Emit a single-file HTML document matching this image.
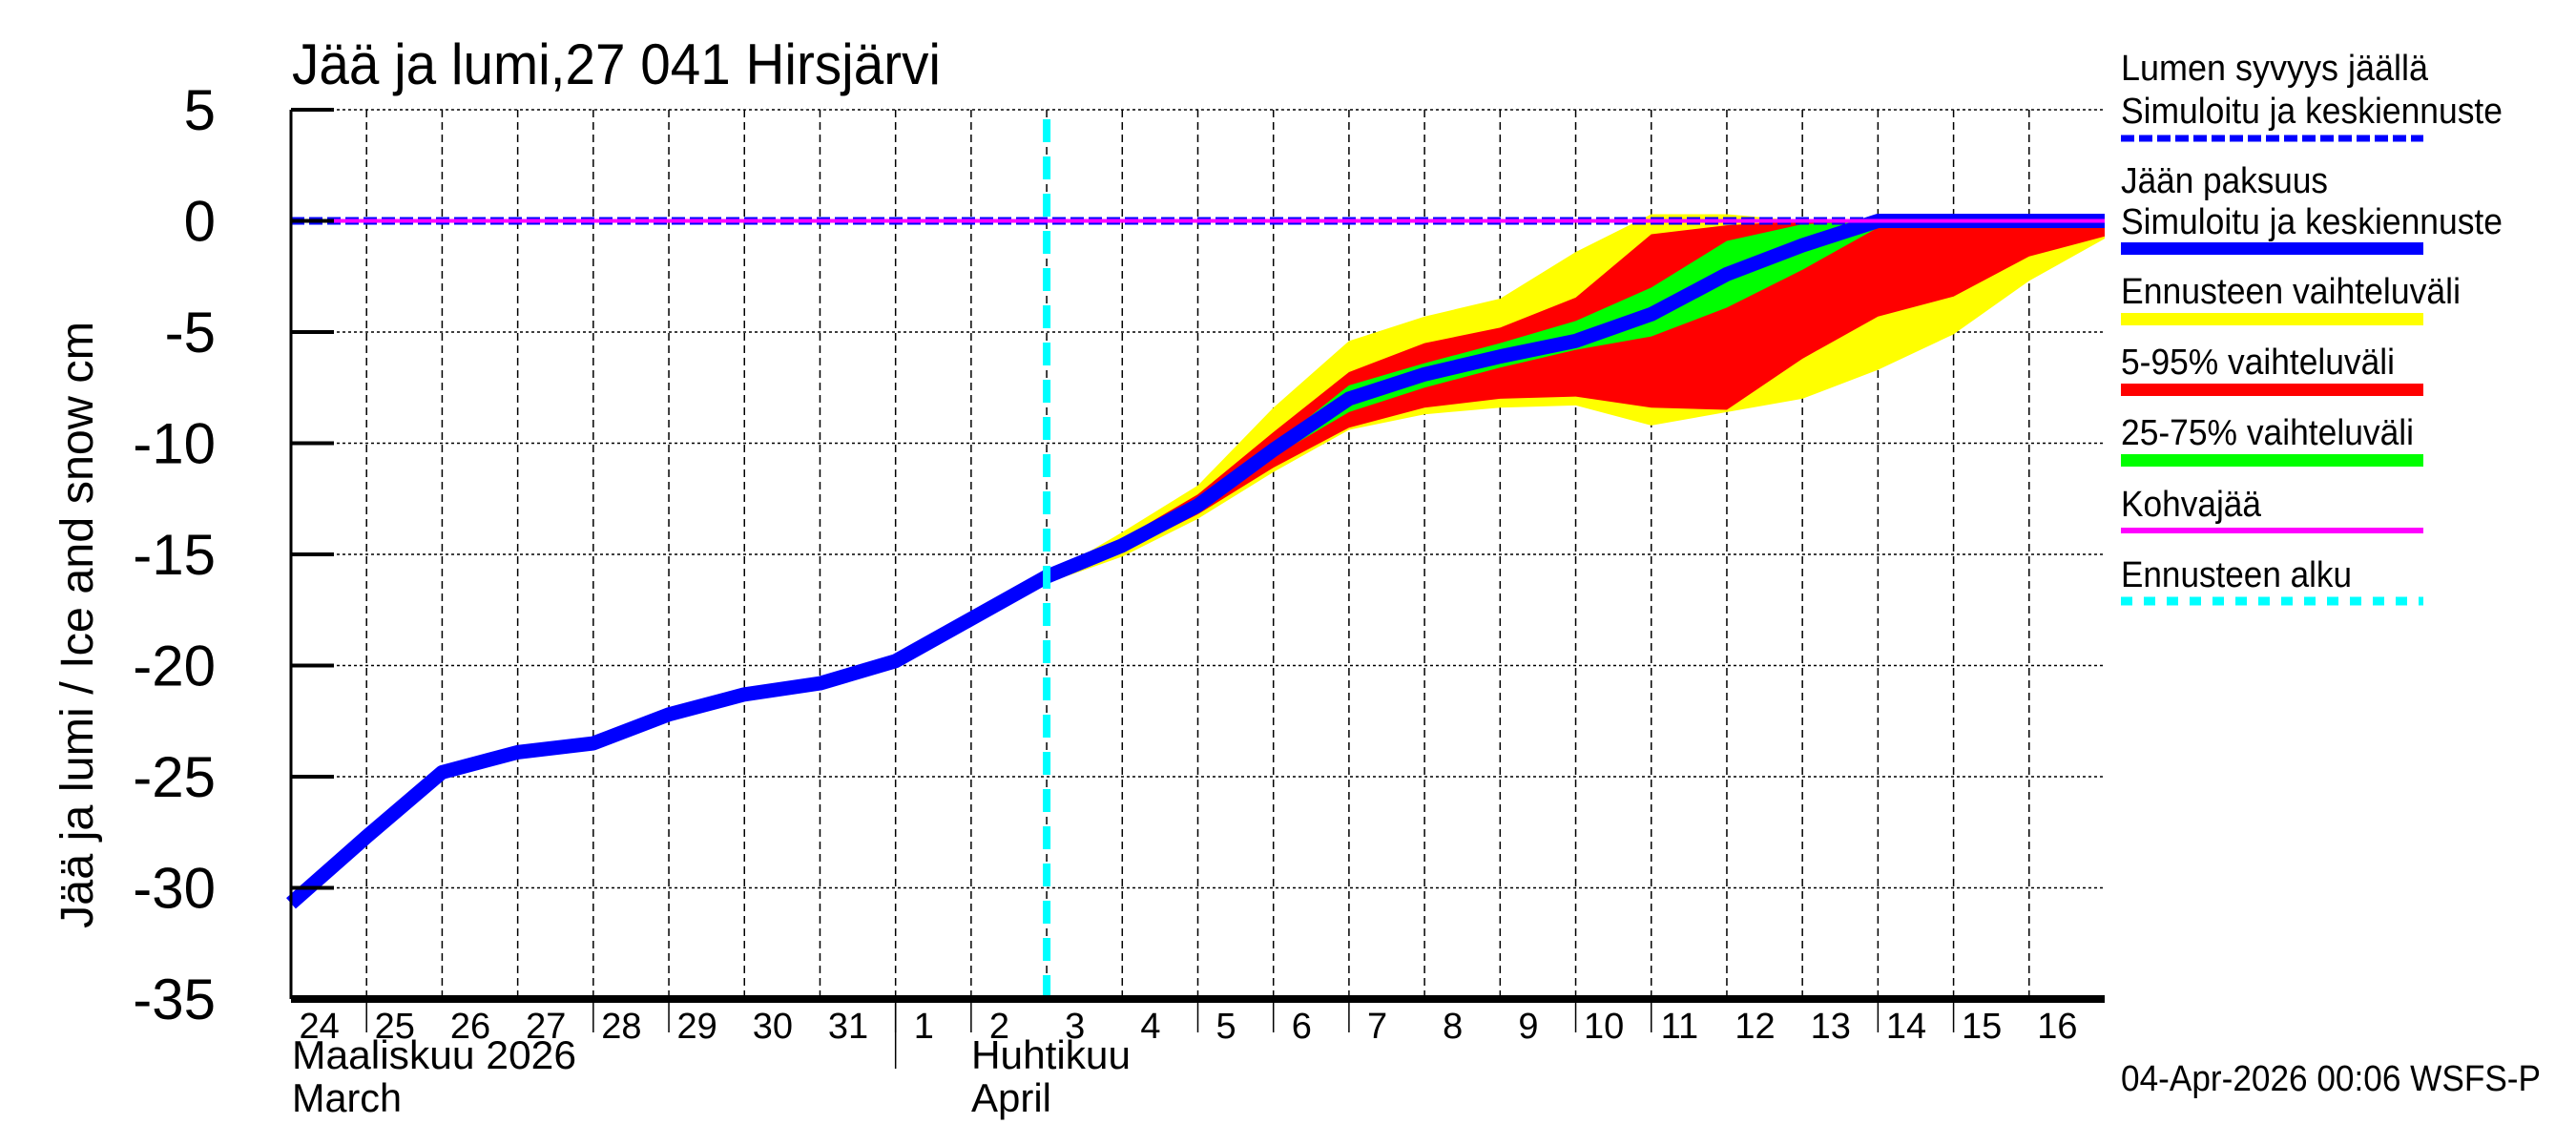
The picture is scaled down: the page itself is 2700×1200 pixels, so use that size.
<!DOCTYPE html>
<html><head><meta charset="utf-8"><style>
html,body{margin:0;padding:0;background:#fff;}
svg{display:block;font-family:"Liberation Sans",sans-serif;}
</style></head><body>
<svg id="chart" width="2700" height="1200" viewBox="0 0 2700 1200" xmlns="http://www.w3.org/2000/svg">
<rect width="2700" height="1200" fill="#fff"/>
<g id="grid"></g>
<g id="bands"></g>
<g id="lines"></g>
<g id="axes"></g>
<text x="306" y="88" font-size="60" textLength="680" lengthAdjust="spacingAndGlyphs">Jää ja lumi,27 041 Hirsjärvi</text>
<text transform="translate(97,655) rotate(-90)" text-anchor="middle" font-size="48" textLength="636" lengthAdjust="spacingAndGlyphs">Jää ja lumi / Ice and snow    cm</text>
<text x="306" y="1120" font-size="42" textLength="298" lengthAdjust="spacingAndGlyphs">Maaliskuu 2026</text>
<text x="306" y="1165" font-size="42" textLength="115" lengthAdjust="spacingAndGlyphs">March</text>
<text x="1018" y="1120" font-size="42" textLength="167" lengthAdjust="spacingAndGlyphs">Huhtikuu</text>
<text x="1018" y="1165" font-size="42" textLength="84" lengthAdjust="spacingAndGlyphs">April</text>
<text x="2223" y="1143" font-size="38" textLength="440" lengthAdjust="spacingAndGlyphs">04-Apr-2026 00:06 WSFS-P</text>
<g font-size="38">
<text x="2223" y="84" textLength="322" lengthAdjust="spacingAndGlyphs">Lumen syvyys jäällä</text>
<text x="2223" y="129" textLength="400" lengthAdjust="spacingAndGlyphs">Simuloitu ja keskiennuste</text>
<line x1="2223" y1="145" x2="2540" y2="145" stroke="#0000ff" stroke-width="7" stroke-dasharray="14,5"/>
<text x="2223" y="202" textLength="217" lengthAdjust="spacingAndGlyphs">Jään paksuus</text>
<text x="2223" y="245" textLength="400" lengthAdjust="spacingAndGlyphs">Simuloitu ja keskiennuste</text>
<rect x="2223" y="254" width="317" height="13" fill="#0000ff"/>
<text x="2223" y="318" textLength="356" lengthAdjust="spacingAndGlyphs">Ennusteen vaihteluväli</text>
<rect x="2223" y="328" width="317" height="13" fill="#ffff00"/>
<text x="2223" y="392" textLength="287" lengthAdjust="spacingAndGlyphs">5-95% vaihteluväli</text>
<rect x="2223" y="402" width="317" height="13" fill="#ff0000"/>
<text x="2223" y="466" textLength="307" lengthAdjust="spacingAndGlyphs">25-75% vaihteluväli</text>
<rect x="2223" y="476" width="317" height="13" fill="#00ff00"/>
<text x="2223" y="541" textLength="147" lengthAdjust="spacingAndGlyphs">Kohvajää</text>
<rect x="2223" y="553" width="317" height="6" fill="#ff00ff"/>
<text x="2223" y="615" textLength="242" lengthAdjust="spacingAndGlyphs">Ennusteen alku</text>
<line x1="2223" y1="630" x2="2540" y2="630" stroke="#00ffff" stroke-width="9" stroke-dasharray="12,12"/>
</g>
</svg>
<script>
// Day index 0 = 24 March 00:00
const dayLabels = ["24","25","26","27","28","29","30","31","1","2","3","4","5","6","7","8","9","10","11","12","13","14","15","16"];
const yTicks = [5,0,-5,-10,-15,-20,-25,-30,-35];
const longTickDays = [1,4,5,8,9,12,13,14,17,18,21,22];
const obsDays = [0,1,2,3,4,5,6,7,8,9,10];
const obsIce = [-30.7,-27.7,-24.8,-23.9,-23.5,-22.2,-21.3,-20.8,-19.8,-17.9,-16.0];
const fcDays = [10,11,12,13,14,15,16,17,18,19,20,21,22,23,24];
const fcIce = [-16.0,-14.6,-12.8,-10.3,-8.0,-6.9,-6.1,-5.4,-4.2,-2.4,-1.1,0,0,0,0];
const yellowTop = [-16.0,-14.0,-11.9,-8.4,-5.4,-4.3,-3.5,-1.4,0.3,0.3,0,0,0,0,0];
const yellowBot = [-16.3,-15.1,-13.4,-11.3,-9.4,-8.7,-8.4,-8.3,-9.2,-8.6,-8.0,-6.7,-5.1,-2.7,-0.8];
const redTop = [-16.0,-14.3,-12.3,-9.5,-6.8,-5.5,-4.8,-3.45,-0.6,-0.2,0,0,0,0,0];
const redBot = [-16.1,-14.9,-13.2,-11.1,-9.3,-8.4,-8.0,-7.9,-8.4,-8.5,-6.2,-4.3,-3.4,-1.6,-0.7];
const greenTop = [-16.0,-14.4,-12.5,-10.1,-7.4,-6.4,-5.5,-4.5,-3.0,-0.9,-0.15,0,0,0,0];
const greenBot = [-16.0,-14.7,-12.9,-10.6,-8.6,-7.5,-6.6,-5.8,-5.2,-3.9,-2.2,-0.3,0,0,0];
const snowDepth = 0;
const forecastStartDay = 10;

const NS = "http://www.w3.org/2000/svg";
const X0 = 305, X1 = 2206, NDAYS = 24;
const Y5 = 115, PXU = 23.3;
function xs(d){ return X0 + (X1 - X0) * d / NDAYS; }
function ys(v){ return Y5 + (5 - v) * PXU; }
function mk(tag, attrs, parent){ const e = document.createElementNS(NS, tag); for (const k in attrs) e.setAttribute(k, attrs[k]); parent.appendChild(e); return e; }

const grid = document.getElementById('grid');
const bands = document.getElementById('bands');
const lines = document.getElementById('lines');
const axes = document.getElementById('axes');

for (let i = 1; i < NDAYS; i++) {
  const l = mk('line', {x1: xs(i), x2: xs(i), y1: Y5, y2: ys(-35), stroke: '#000', 'stroke-width': 1.5, 'stroke-dasharray': '8,5'}, grid);
  
  
}
yTicks.forEach(v => {
  if (v === -35) return;
  const l = mk('line', {x1: X0, x2: X1, y1: ys(v), y2: ys(v), stroke: '#000', 'stroke-width': 1.5, 'stroke-dasharray': '3,3'}, grid);
  
  
});

function band(top, bot, color, name) {
  let pts = [];
  fcDays.forEach((d, i) => pts.push(xs(d) + ',' + ys(top[i])));
  for (let i = fcDays.length - 1; i >= 0; i--) pts.push(xs(fcDays[i]) + ',' + ys(bot[i]));
  const p = mk('polygon', {points: pts.join(' '), fill: color}, bands);
  
  
}
band(yellowTop, yellowBot, '#ffff00', 'band-forecast-range');
band(redTop, redBot, '#ff0000', 'band-5-95');
band(greenTop, greenBot, '#00ff00', 'band-25-75');

const sn = mk('line', {x1: X0, x2: X1, y1: ys(snowDepth), y2: ys(snowDepth), stroke: '#0000ff', 'stroke-width': 8, 'stroke-dasharray': '14,5'}, lines);



const allDays = obsDays.concat(fcDays.slice(1));
const allIce = obsIce.concat(fcIce.slice(1));
const ice = mk('polyline', {points: allDays.map((d, i) => xs(d) + ',' + ys(allIce[i])).join(' '), fill: 'none', stroke: '#0000ff', 'stroke-width': 15, 'stroke-linejoin': 'round'}, lines);



const sl = mk('line', {x1: X0, x2: X1, y1: ys(snowDepth), y2: ys(snowDepth), stroke: '#ff00ff', 'stroke-width': 4}, lines);



const fs = mk('line', {x1: xs(forecastStartDay), x2: xs(forecastStartDay), y1: 125, y2: ys(-35), stroke: '#00ffff', 'stroke-width': 8, 'stroke-dasharray': '24,15'}, lines);



const ya = mk('line', {x1: X0, x2: X0, y1: Y5, y2: ys(-35), stroke: '#000', 'stroke-width': 3}, axes);


const xa = mk('line', {x1: X0, x2: X1, y1: ys(-35), y2: ys(-35), stroke: '#000', 'stroke-width': 8}, axes);


yTicks.forEach(v => {
  const t = mk('line', {x1: X0, x2: 350, y1: ys(v), y2: ys(v), stroke: '#000', 'stroke-width': 4}, axes);
  
  
  const tx = mk('text', {x: 226, y: ys(v) + 21, 'text-anchor': 'end', 'font-size': 60}, axes);
  tx.textContent = String(v);
  
  
});
longTickDays.forEach(d => {
  const t = mk('line', {x1: xs(d), x2: xs(d), y1: ys(-35), y2: 1082, stroke: '#000', 'stroke-width': 1.5}, axes);
  
  
});
const ms = mk('line', {x1: xs(8), x2: xs(8), y1: ys(-35), y2: 1120, stroke: '#000', 'stroke-width': 1.5}, axes);


dayLabels.forEach((lab, i) => {
  const t = mk('text', {x: xs(i + 0.5) - 10, y: 1088, 'text-anchor': 'middle', 'font-size': 38}, axes);
  t.textContent = lab;
  
  
});
</script>
</body></html>
